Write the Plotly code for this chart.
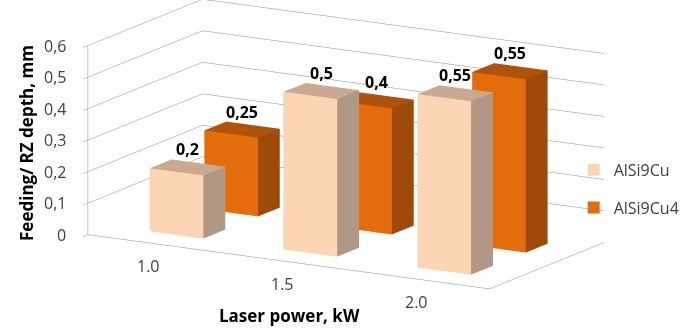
import plotly.graph_objects as go

# Chart data
categories = ["1.0", "1.5", "2.0"]          # laser power, kW
series_names = ["AlSi9Cu", "AlSi9Cu4"]
alsi9cu = [0.2, 0.5, 0.55]
alsi9cu4 = [0.25, 0.4, 0.55]
z_ticks = [0, 0.1, 0.2, 0.3, 0.4, 0.5, 0.6]
z_tick_text = ["0", "0,1", "0,2", "0,3", "0,4", "0,5", "0,6"]

# face colours per series: front, top, side
palette = {
    "AlSi9Cu": {"front": "#FCD5B5", "top": "#C9AA91", "side": "#B09884"},
    "AlSi9Cu4": {"front": "#E46C0A", "top": "#B0520A", "side": "#9E4A08"},
}

BAR_W = 0.4   # bar width in category units
BAR_D = 0.4   # bar depth in series units
X_RANGE = [-0.5, 2.5]
Y_RANGE = [-0.6, 1.5]


def box_mesh(values, row, colors, name):
    xs, ys, zs, ii, jj, kk, fc = [], [], [], [], [], [], []
    for ci, v in enumerate(values):
        x0, x1 = ci - BAR_W / 2, ci + BAR_W / 2
        y0, y1 = row - BAR_D / 2, row + BAR_D / 2
        base = len(xs)
        corners = [(x0, y0, 0), (x1, y0, 0), (x1, y1, 0), (x0, y1, 0),
                   (x0, y0, v), (x1, y0, v), (x1, y1, v), (x0, y1, v)]
        for cx, cy, cz in corners:
            xs.append(cx); ys.append(cy); zs.append(cz)
        faces = [
            ((0, 1, 2), "side"), ((0, 2, 3), "side"),      # bottom
            ((4, 5, 6), "top"), ((4, 6, 7), "top"),        # top
            ((0, 1, 5), "front"), ((0, 5, 4), "front"),    # front
            ((3, 2, 6), "side"), ((3, 6, 7), "side"),      # back
            ((0, 3, 7), "side"), ((0, 7, 4), "side"),      # left
            ((1, 2, 6), "side"), ((1, 6, 5), "side"),      # right
        ]
        for (a, b, c), key in faces:
            ii.append(base + a); jj.append(base + b); kk.append(base + c)
            fc.append(colors[key])
    return go.Mesh3d(
        x=xs, y=ys, z=zs, i=ii, j=jj, k=kk, facecolor=fc,
        flatshading=True, name=name, showlegend=False, hoverinfo="skip",
        lighting=dict(ambient=1, diffuse=0, specular=0, roughness=1, fresnel=0),
    )


fig = go.Figure()
rows = {"AlSi9Cu": (alsi9cu, 0), "AlSi9Cu4": (alsi9cu4, 1)}
for name in series_names:
    vals, row = rows[name]
    fig.add_trace(box_mesh(vals, row, palette[name], name))

# legend entries
for name in series_names:
    fig.add_trace(go.Scatter3d(
        x=[None], y=[None], z=[None], mode="markers", name=name, legendgroup=name,
        marker=dict(symbol="square", size=11, color=palette[name]["front"]),
    ))

label_font = dict(family="Open Sans", size=16, color="#404040")
annotations = []
# value labels above each bar
for name in series_names:
    vals, row = rows[name]
    for ci, v in enumerate(vals):
        annotations.append(dict(
            x=ci, y=row, z=v, text="<b>" + f"{v:g}".replace(".", ",") + "</b>",
            showarrow=False, yshift=18,
            font=dict(family="Open Sans", size=16, color="#000000"),
        ))
# value-axis tick labels along the front-left edge
for t, txt in zip(z_ticks, z_tick_text):
    annotations.append(dict(x=X_RANGE[0], y=Y_RANGE[0], z=t, text=txt, showarrow=False,
                            xanchor="right", xshift=-20, font=label_font))
# category labels below the front edge
for ci, txt in enumerate(categories):
    annotations.append(dict(x=ci, y=Y_RANGE[0], z=0, text=txt, showarrow=False,
                            xshift=-6, yshift=-22, font=label_font))

axis_common = dict(
    showbackground=False, showspikes=False, title=dict(text=""),
    linecolor="#8C8C8C", linewidth=1, showticklabels=False,
)

fig.update_layout(
    width=687, height=329,
    margin=dict(l=0, r=0, t=0, b=0),
    paper_bgcolor="white",
    font=dict(family="Open Sans", color="#404040"),
    showlegend=True,
    legend=dict(x=0.835, y=0.426, xanchor="left", yanchor="middle",
                bgcolor="rgba(0,0,0,0)",
                font=dict(family="Open Sans", size=16, color="#404040"),
                itemsizing="constant", tracegroupgap=14, itemwidth=30),
    scene=dict(
        domain=dict(x=[0.0886, 0.9186], y=[0.11, 1.0]),
        xaxis=dict(axis_common, range=X_RANGE, showgrid=False, showline=True, ticks=""),
        yaxis=dict(axis_common, range=Y_RANGE, showgrid=False, showline=True, ticks=""),
        zaxis=dict(axis_common, range=[0, 0.6], tickvals=z_ticks,
                   showgrid=True, gridcolor="#8C8C8C", gridwidth=1, showline=True,
                   ticks="outside", ticklen=6, tickcolor="#8C8C8C"),
        aspectmode="manual",
        aspectratio=dict(x=3.166, y=1.565, z=1.327),
        camera=dict(eye=dict(x=0.974, y=-1.687, z=0.451), center=dict(x=0, y=0, z=-0.017),
                    up=dict(x=0, y=0, z=1), projection=dict(type="orthographic")),
        annotations=annotations,
    ),
)

fig.add_annotation(text="<b>Feeding/ RZ depth, mm</b>", x=0.018, y=0.565, xref="paper", yref="paper",
                   textangle=-90, showarrow=False,
                   font=dict(family="Open Sans", size=17, color="#000000"))
fig.add_annotation(text="<b>Laser power, kW</b>", x=0.422, y=0.0, xref="paper", yref="paper",
                   yanchor="bottom", showarrow=False,
                   font=dict(family="Open Sans", size=17, color="#000000"))

fig.write_html("out.html")
